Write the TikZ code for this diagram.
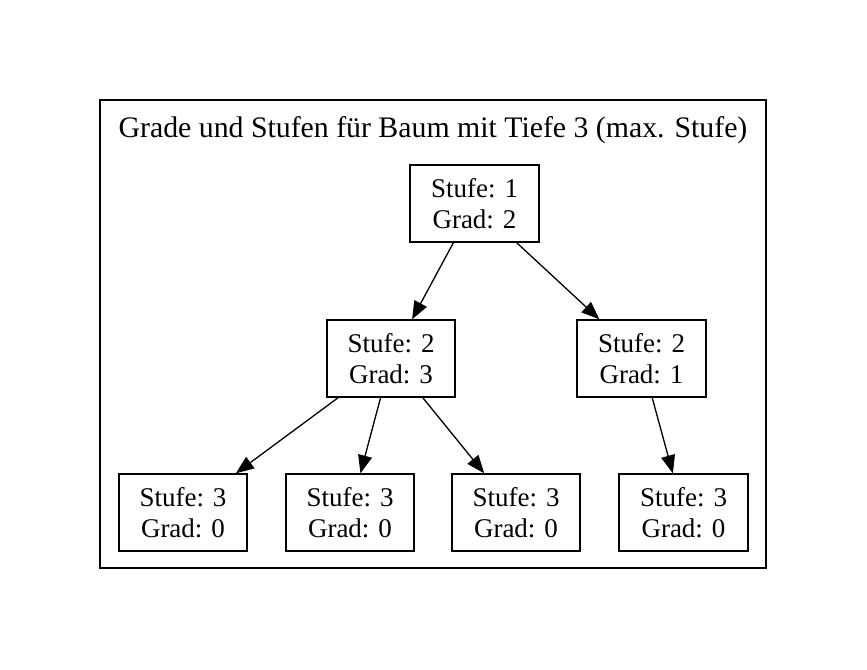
\documentclass[tikz,border=0pt]{standalone}
\usepackage{fontspec}
\setmainfont{Liberation Serif}
\usetikzlibrary{arrows.meta}
\begin{document}
\begin{tikzpicture}[x=1pt,y=-1pt,
  box/.style={draw,line width=1.4pt,minimum width=128pt,minimum height=77pt,inner sep=0pt,align=center,font=\fontsize{27}{31}\selectfont},
  edge/.style={draw,line width=1.3pt,-{Triangle[length=18pt,width=14pt]}}]
\useasboundingbox (0,0) rectangle (867,669);
\node[draw,line width=1.4pt,minimum width=666pt,minimum height=468pt,inner sep=0pt] (cluster) at (433,334) {};
\node[anchor=base,font=\fontsize{29.8}{33}\selectfont] (title) at (433,137.5) {Grade und Stufen für Baum mit Tiefe 3 (max. Stufe)};
\node[box,minimum width=129pt] (r) at (474.5,203.5) {Stufe: 1\\Grad: 2};
\node[box] (a) at (391,358.5) {Stufe: 2\\Grad: 3};
\node[box,minimum width=129pt] (b) at (641.5,358.5) {Stufe: 2\\Grad: 1};
\node[box] (l1) at (183,512.5) {Stufe: 3\\Grad: 0};
\node[box] (l2) at (350,512.5) {Stufe: 3\\Grad: 0};
\node[box] (l3) at (516,512.5) {Stufe: 3\\Grad: 0};
\node[box,minimum width=129pt] (l4) at (683.5,512.5) {Stufe: 3\\Grad: 0};
\draw[edge] (r) -- (a);
\draw[edge] (r) -- (b);
\draw[edge] (a) -- (l1);
\draw[edge] (a) -- (l2);
\draw[edge] (a) -- (l3);
\draw[edge] (b) -- (l4);
\end{tikzpicture}
\end{document}
